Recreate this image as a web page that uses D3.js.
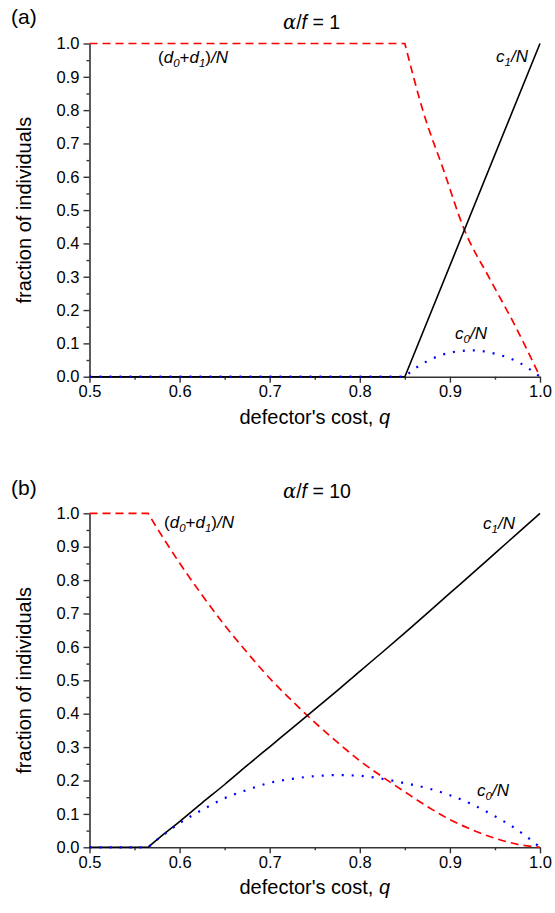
<!DOCTYPE html>
<html>
<head>
<meta charset="utf-8">
<script src="https://cdn.jsdelivr.net/npm/d3@7"></script>
<style>
  html, body { margin: 0; padding: 0; background: #fff; }
  svg { display: block; }
  text { font-family: "Liberation Sans", Arial, sans-serif; fill: #000; }
</style>
</head>
<body>
<svg id="chart" width="555" height="913"></svg>
<script>
// ---- data -------------------------------------------------------------
// panel (a): alpha/f = 1
const aRedQ = [0.5, 0.85, 0.871, 0.893, 0.915, 0.945, 0.971, 1.0];
const aRed  = [1, 1, 0.79, 0.62, 0.448, 0.29, 0.16, 0];
const aC1Q  = [0.5, 0.85, 1.0];
const aC1   = [0, 0, 1];
const aC0Q  = [0.5, 0.85, 0.86, 0.875, 0.9, 0.925, 0.95, 0.975, 1.0];
const aC0   = [0, 0, 0.022, 0.047, 0.072, 0.079, 0.069, 0.045, 0];

// panel (b): alpha/f = 10
const bQ   = [0.5, 0.565, 0.58, 0.6, 0.625, 0.65, 0.675, 0.7, 0.725, 0.75,
              0.775, 0.8, 0.825, 0.85, 0.875, 0.9, 0.925, 0.95, 0.975, 1.0];
const bC1  = [0, 0, 0.034, 0.077, 0.133, 0.188, 0.245, 0.301, 0.357, 0.413,
              0.469, 0.527, 0.584, 0.642, 0.701, 0.761, 0.82, 0.88, 0.94, 1.0];
const bC0  = [0, 0, 0.033, 0.072, 0.112, 0.147, 0.172, 0.193, 0.205, 0.213,
              0.216, 0.214, 0.205, 0.192, 0.177, 0.156, 0.128, 0.093, 0.052, 0];
const bRed = [1, 1, 0.934, 0.851, 0.755, 0.665, 0.583, 0.506, 0.438, 0.374,
              0.315, 0.259, 0.211, 0.166, 0.122, 0.083, 0.052, 0.027, 0.009, 0];

const xTicks = [0.5, 0.6, 0.7, 0.8, 0.9, 1.0];
const xMinor = [0.55, 0.65, 0.75, 0.85, 0.95];
const yTicks = [0, 0.1, 0.2, 0.3, 0.4, 0.5, 0.6, 0.7, 0.8, 0.9, 1.0];
const yMinor = [0.05, 0.15, 0.25, 0.35, 0.45, 0.55, 0.65, 0.75, 0.85, 0.95];

// ---- drawing ----------------------------------------------------------
const svg = d3.select("#chart");
const x = d3.scaleLinear().domain([0.5, 1.0]).range([89.5, 540]);

const zip = (qs, vs) => qs.map((q, i) => [q, vs[i]]);

function panel(cfg) {
  const y = d3.scaleLinear().domain([0, 1]).range([cfg.bottom, cfg.top]);
  const g = svg.append("g");

  const linear = d3.line().x(d => x(d[0])).y(d => y(d[1]));
  const smooth = d3.line().x(d => x(d[0])).y(d => y(d[1])).curve(d3.curveMonotoneX);
  // flat part up to the break point, smooth curve after it, as one path
  const pathOf = (pts, brk) => {
    const flat = linear(pts.slice(0, brk + 1));
    const rest = smooth(pts.slice(brk));
    return flat + "L" + rest.slice(1);
  };

  // axes
  const axisColor = "#333";
  g.append("g").attr("transform", `translate(${x(0.5)},0)`)
    .call(d3.axisLeft(y).tickValues(yTicks).tickFormat(d3.format(".1f")).tickSize(6).tickPadding(4).tickSizeOuter(0));
  g.append("g").attr("transform", `translate(${x(0.5)},0)`)
    .call(d3.axisLeft(y).tickValues(yMinor).tickFormat("").tickSize(3))
    .select(".domain").remove();
  g.append("g").attr("transform", `translate(0,${y(0)})`)
    .call(d3.axisBottom(x).tickValues(xTicks).tickFormat(d3.format(".1f")).tickSize(6).tickPadding(3).tickSizeOuter(0));
  g.append("g").attr("transform", `translate(0,${y(0)})`)
    .call(d3.axisBottom(x).tickValues(xMinor).tickFormat("").tickSize(3))
    .select(".domain").remove();
  g.selectAll(".domain").attr("stroke", axisColor).attr("stroke-width", 1.6);
  g.selectAll(".tick line").attr("stroke", axisColor).attr("stroke-width", 1.4);
  g.selectAll(".tick text").style("font-size", "16.5px").attr("fill", "#000");

  // curves
  g.append("path").attr("d", pathOf(cfg.red, 1))
    .attr("fill", "none").attr("stroke", "#ff0000").attr("stroke-width", 1.7)
    .attr("stroke-dasharray", "8,5");
  g.append("path").attr("d", pathOf(cfg.c1, 1))
    .attr("fill", "none").attr("stroke", "#000").attr("stroke-width", 1.6);
  g.append("path").attr("d", pathOf(cfg.c0, 1))
    .attr("fill", "none").attr("stroke", "#0000ff").attr("stroke-width", 2.2)
    .attr("stroke-dasharray", "2,8");

  // axis titles
  g.append("text").attr("x", (x(0.5) + x(1.0)) / 2).attr("y", y(0) + 47)
    .attr("text-anchor", "middle").style("font-size", "20px")
    .html('defector\'s cost, <tspan font-style="italic">q</tspan>');
  g.append("text")
    .attr("transform", `translate(31,${(y(0) + y(1)) / 2}) rotate(-90)`)
    .attr("text-anchor", "middle").style("font-size", "20px")
    .text("fraction of individuals");

  // panel letter and title
  g.append("text").attr("x", 11).attr("y", cfg.letterY).style("font-size", "21px").text(cfg.letter);
  const t = g.append("text").attr("x", 283).attr("y", cfg.titleY).style("font-size", "19.5px");
  t.append("tspan").attr("font-style", "italic").attr("font-family", "DejaVu Serif, serif").text("α");
  t.append("tspan").text("/");
  t.append("tspan").attr("font-style", "italic").text("f");
  t.append("tspan").text(" = " + cfg.ratio);

  // curve labels
  const label = (lx, ly, parts) => {
    const el = g.append("text").attr("x", lx).attr("y", ly).style("font-size", "17px").attr("font-style", "italic");
    parts.forEach(p => {
      const s = el.append("tspan").text(p[0]);
      if (p[1] === "sub") s.attr("font-size", "11.5px").attr("dy", 4);
      if (p[1] === "up") s.attr("dy", -4);
      if (p[2]) s.attr("font-style", "normal");
    });
  };
  label(cfg.dLab[0], cfg.dLab[1], [["(", "", 1], ["d"], ["0", "sub"], ["+", "up", 1], ["d"], ["1", "sub"], [")", "up", 1], ["/N"]]);
  label(cfg.c1Lab[0], cfg.c1Lab[1], [["c"], ["1", "sub"], ["/N", "up"]]);
  label(cfg.c0Lab[0], cfg.c0Lab[1], [["c"], ["0", "sub"], ["/N", "up"]]);
}

panel({
  top: 43.5, bottom: 376.7, letter: "(a)", letterY: 24, titleY: 29, ratio: "1",
  red: zip(aRedQ, aRed), c1: zip(aC1Q, aC1), c0: zip(aC0Q, aC0),
  dLab: [158, 63], c1Lab: [496, 62], c0Lab: [455, 339]
});
panel({
  top: 513.3, bottom: 847.3, letter: "(b)", letterY: 495, titleY: 498, ratio: "10",
  red: zip(bQ, bRed), c1: zip(bQ, bC1), c0: zip(bQ, bC0),
  dLab: [164, 528], c1Lab: [483, 529], c0Lab: [477, 796]
});
</script>
</body>
</html>
